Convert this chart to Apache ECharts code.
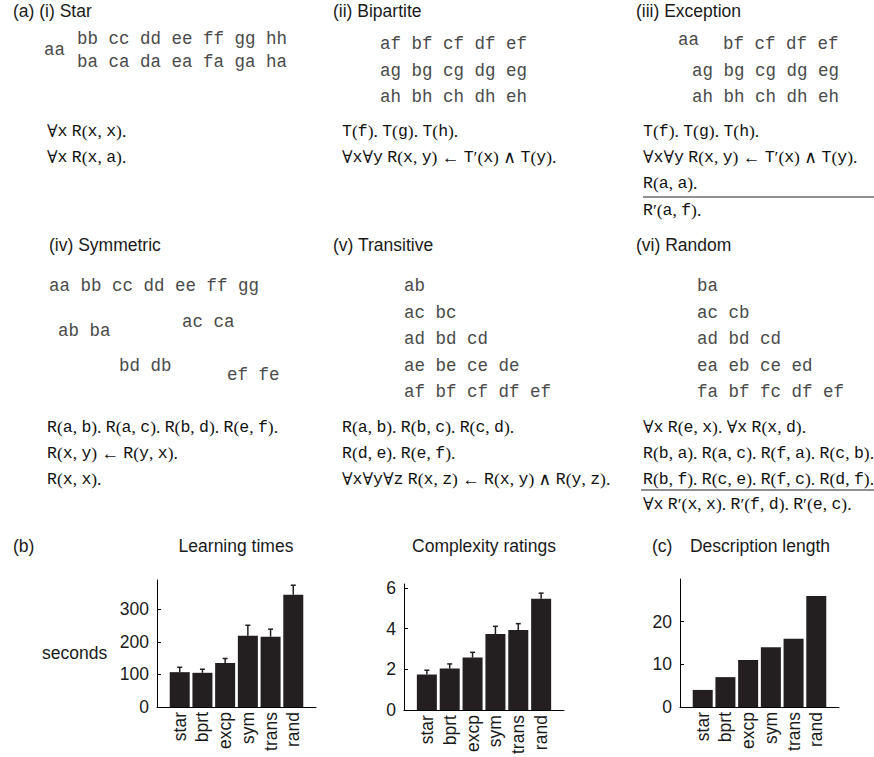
<!DOCTYPE html>
<html>
<head>
<meta charset="utf-8">
<title>Relational concepts: learning times, complexity and description length</title>
<script src="https://cdn.jsdelivr.net/npm/echarts@6/dist/echarts.min.js"></script>
<style>
  html, body { margin: 0; padding: 0; background: #fff; }
  #chart { width: 874px; height: 757px; }
</style>
</head>
<body>
<div id="chart"></div>
<script>
// ---- data ----
const categories = ['star', 'bprt', 'excp', 'sym', 'trans', 'rand'];
const learningTimes = [107, 105, 135, 219, 216, 345];
const learningErr = [15, 11, 14, 32, 23, 29];
const complexityRatings = [1.75, 2.04, 2.58, 3.74, 3.94, 5.48];
const complexityErr = [0.21, 0.23, 0.26, 0.38, 0.31, 0.27];
const descriptionLength = [4, 7, 11, 14, 16, 26];
const learningTicks = [0, 100, 200, 300];
const complexityTicks = [0, 2, 4, 6];
const lengthTicks = [0, 10, 20];

// relation examples and their logical descriptions
const starRows = ['bb cc dd ee ff gg hh', 'aa', 'ba ca da ea fa ga ha'];
const starRules = ['∀x R(x, x).', '∀x R(x, a).'];
const bipartiteRows = ['af bf cf df ef', 'ag bg cg dg eg', 'ah bh ch dh eh'];
const bipartiteRules = ['T(f). T(g). T(h).', '∀x∀y R(x, y) ← T′(x) ∧ T(y).'];
const exceptionRows = ['aa', 'bf cf df ef', 'ag bg cg dg eg', 'ah bh ch dh eh'];
const exceptionRules = ['T(f). T(g). T(h).', '∀x∀y R(x, y) ← T′(x) ∧ T(y).', 'R(a, a).'];
const exceptionExtra = ['R′(a, f).'];
const symmetricRows = ['aa bb cc dd ee ff gg', 'ab ba', 'ac ca', 'bd db', 'ef fe'];
const symmetricRules = ['R(a, b). R(a, c). R(b, d). R(e, f).', 'R(x, y) ← R(y, x).', 'R(x, x).'];
const transitiveRows = ['ab', 'ac bc', 'ad bd cd', 'ae be ce de', 'af bf cf df ef'];
const transitiveRules = ['R(a, b). R(b, c). R(c, d).', 'R(d, e). R(e, f).', '∀x∀y∀z R(x, z) ← R(x, y) ∧ R(y, z).'];
const randomRows = ['ba', 'ac cb', 'ad bd cd', 'ea eb ce ed', 'fa bf fc df ef'];
const randomRules = ['∀x R(e, x). ∀x R(x, d).', 'R(b, a). R(a, c). R(f, a). R(c, b).', 'R(b, f). R(c, e). R(f, c). R(d, f).'];
const randomExtra = ['∀x R′(x, x). R′(f, d). R′(e, c).'];

// ---- styles ----
const SANS = '"Liberation Sans", Arial, Helvetica, sans-serif';
const MONO = '"Courier New", Courier, "Liberation Mono", monospace';
const SERIF = '"Liberation Serif", "DejaVu Serif", serif';
const INK = '#231f20';

// split a formula into typewriter letters and roman punctuation/symbols
function tex(s) {
  let out = '';
  s.replace(/([A-Za-z]+)|([^A-Za-z]+)/g, (m, a, b) => {
    out += a ? '{t|' + a + '}' : '{p|' + b + '}';
    return m;
  });
  return out;
}
const texRich = {
  t: { fontFamily: MONO, fontSize: 16.5, fill: '#111', color: '#111' },
  p: { fontFamily: SERIF, fontSize: 17.5, fill: '#111', color: '#111' }
};

const graphics = [];
function heading(txt, x, y) {
  graphics.push({ type: 'text', x: x, y: y, silent: true,
    style: { text: txt, fontFamily: SANS, fontSize: 17.5, fill: '#1a1a1a', verticalAlign: 'middle' } });
}
function pairs(txt, x, y) {
  graphics.push({ type: 'text', x: x, y: y, silent: true,
    style: { text: txt, fontFamily: MONO, fontSize: 17.5, fill: '#4a4a4a', verticalAlign: 'middle' } });
}
function formula(txt, x, y) {
  graphics.push({ type: 'text', x: x, y: y, silent: true,
    style: { text: tex(txt), rich: texRich, verticalAlign: 'middle' } });
}
function rule(x1, x2, y) {
  graphics.push({ type: 'line', silent: true, shape: { x1: x1, y1: y, x2: x2, y2: y },
    style: { stroke: '#222', lineWidth: 1.2 } });
}
function sans(txt, x, y) {
  graphics.push({ type: 'text', x: x, y: y, silent: true,
    style: { text: txt, fontFamily: SANS, fontSize: 17.5, fill: '#1a1a1a', verticalAlign: 'middle' } });
}

const ruleGap = 26;

// (i) Star
heading('(a) (i) Star', 13, 11);
pairs(starRows[0], 77, 39);
pairs(starRows[1], 44, 50);
pairs(starRows[2], 77, 62);
starRules.forEach((r, i) => formula(r, 47, 131 + i * ruleGap));

// (ii) Bipartite
heading('(ii) Bipartite', 333, 11);
bipartiteRows.forEach((r, i) => pairs(r, 380, 44 + i * 26.5));
bipartiteRules.forEach((r, i) => formula(r, 342, 131 + i * ruleGap));

// (iii) Exception
heading('(iii) Exception', 636, 11);
pairs(exceptionRows[0], 678, 40);
pairs(exceptionRows[1], 723, 44);
pairs(exceptionRows[2], 692, 70.5);
pairs(exceptionRows[3], 692, 97);
exceptionRules.forEach((r, i) => formula(r, 643, 131 + i * ruleGap));
rule(643, 874, 197);
formula(exceptionExtra[0], 643, 210);

// (iv) Symmetric
heading('(iv) Symmetric', 49, 245);
pairs(symmetricRows[0], 49, 286);
pairs(symmetricRows[1], 58, 331);
pairs(symmetricRows[2], 182, 322);
pairs(symmetricRows[3], 119, 366);
pairs(symmetricRows[4], 227, 375);
symmetricRules.forEach((r, i) => formula(r, 47, 427 + i * ruleGap));

// (v) Transitive
heading('(v) Transitive', 333, 245);
transitiveRows.forEach((r, i) => pairs(r, 404, 286 + i * 26.5));
transitiveRules.forEach((r, i) => formula(r, 342, 427 + i * ruleGap));

// (vi) Random
heading('(vi) Random', 636, 245);
randomRows.forEach((r, i) => pairs(r, 697, 286 + i * 26.5));
randomRules.forEach((r, i) => formula(r, 643, 427 + i * ruleGap));
rule(641, 874, 490);
formula(randomExtra[0], 643, 504);

// panel (b) / (c) captions
sans('(b)', 13, 546);
sans('seconds', 42, 653);
sans('(c)', 652, 546);

// ---- bar charts ----
const grids = [
  { left: 157, top: 580, width: 159, height: 127 },
  { left: 404, top: 584, width: 160, height: 127 },
  { left: 680, top: 579, width: 159, height: 128 }
];
const titles = [
  { text: 'Learning times', cx: 236 },
  { text: 'Complexity ratings', cx: 484 },
  { text: 'Description length', cx: 760 }
];
const yMax = [390, 6.2, 30];
const yTicks = [learningTicks, complexityTicks, lengthTicks];
const values = [learningTimes, complexityRatings, descriptionLength];
const errors = [learningErr, complexityErr, null];
const catPos = categories.map((c, i) => i + 1);

const xAxes = grids.map((g, k) => ({
  type: 'value', gridIndex: k, min: 0, max: categories.length + 1,
  axisLine: { show: true, lineStyle: { color: '#000', width: 1 } },
  axisTick: { show: false },
  splitLine: { show: false },
  axisLabel: {
    customValues: catPos, rotate: 90, margin: 5,
    fontFamily: SANS, fontSize: 17.5, color: '#1a1a1a',
    formatter: v => categories[v - 1] || ''
  }
}));
const yAxes = grids.map((g, k) => ({
  type: 'value', gridIndex: k, min: 0, max: yMax[k],
  axisLine: { show: true, lineStyle: { color: '#000', width: 1 } },
  axisTick: { show: true, inside: true, length: 4, customValues: yTicks[k], lineStyle: { color: '#000' } },
  splitLine: { show: false },
  axisLabel: { customValues: yTicks[k], margin: 8, fontFamily: SANS, fontSize: 17.5, color: '#1a1a1a' }
}));

const series = [];
values.forEach((vals, k) => {
  series.push({
    type: 'bar', xAxisIndex: k, yAxisIndex: k, barWidth: 20,
    itemStyle: { color: INK },
    data: vals.map((v, i) => [catPos[i], v]),
    silent: true
  });
  if (errors[k]) {
    series.push({
      type: 'custom', xAxisIndex: k, yAxisIndex: k, silent: true, z: 3,
      data: vals.map((v, i) => [catPos[i], v, v + errors[k][i]]),
      renderItem: (params, api) => {
        const base = api.coord([api.value(0), api.value(1)]);
        const top = api.coord([api.value(0), api.value(2)]);
        const st = { stroke: INK, lineWidth: 1.5 };
        return {
          type: 'group',
          children: [
            { type: 'line', shape: { x1: base[0], y1: base[1], x2: top[0], y2: top[1] }, style: st },
            { type: 'line', shape: { x1: top[0] - 2.5, y1: top[1], x2: top[0] + 2.5, y2: top[1] }, style: st }
          ]
        };
      }
    });
  }
});

titles.forEach(t => {
  graphics.push({ type: 'text', x: t.cx, y: 546, silent: true,
    style: { text: t.text, fontFamily: SANS, fontSize: 17.5, fill: '#1a1a1a', align: 'center', verticalAlign: 'middle' } });
});

const chart = echarts.init(document.getElementById('chart'), null, { renderer: 'svg' });
chart.setOption({
  animation: false,
  backgroundColor: '#fff',
  grid: grids,
  xAxis: xAxes,
  yAxis: yAxes,
  series: series,
  graphic: graphics
});
</script>
</body>
</html>
